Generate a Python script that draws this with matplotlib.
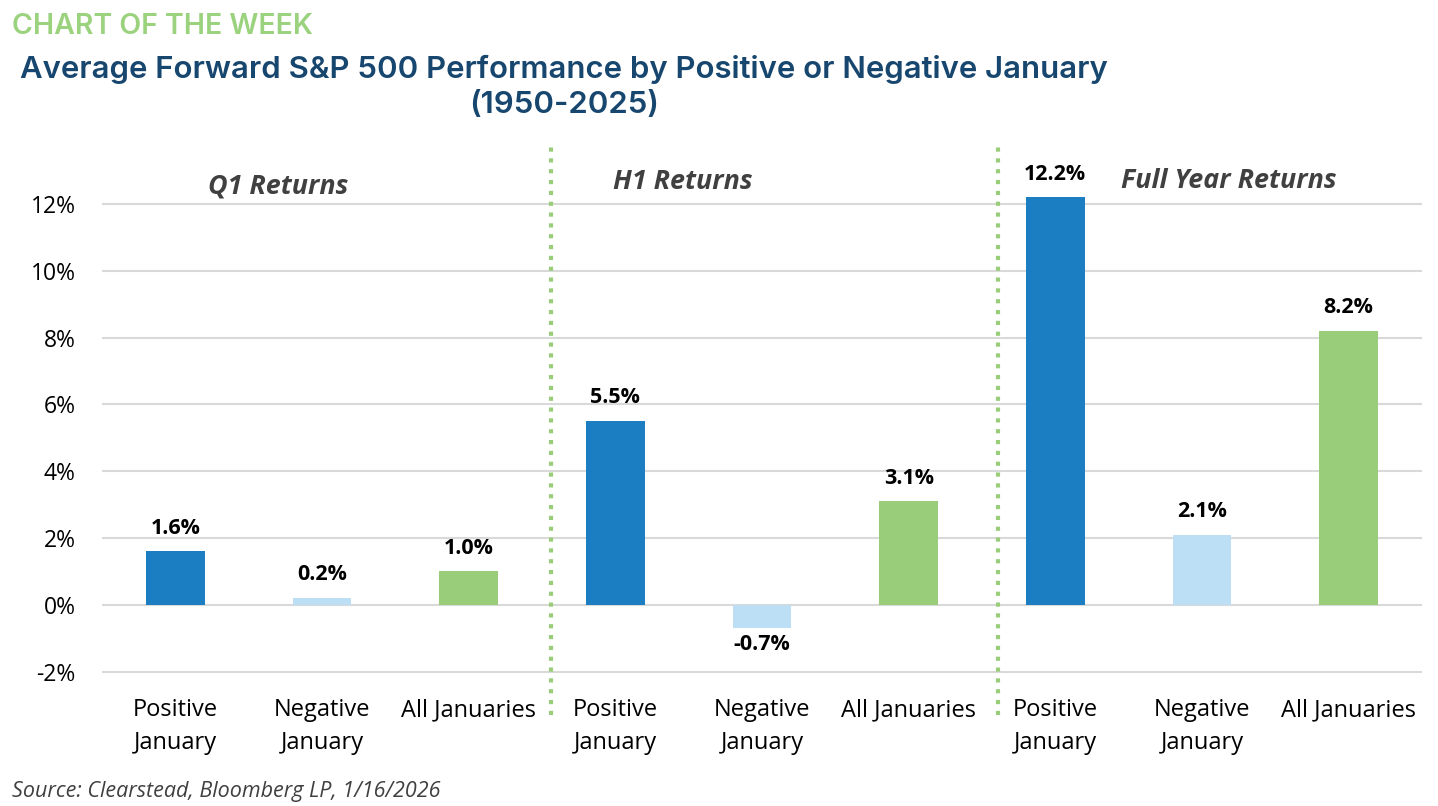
import matplotlib
matplotlib.use("Agg")
import matplotlib.pyplot as plt
from matplotlib.ticker import FuncFormatter

# data
groups = ["Q1 Returns", "H1 Returns", "Full Year Returns"]
categories = ["Positive\nJanuary", "Negative\nJanuary", "All Januaries"]
q1_vals = [1.6, 0.2, 1.0]
h1_vals = [5.5, -0.7, 3.1]
fy_vals = [12.2, 2.1, 8.2]
yticks = [-2, 0, 2, 4, 6, 8, 10, 12]

colors = ["#1B7EC2", "#BDDFF6", "#99CD7A"]

plt.rcParams['font.family'] = ['Open Sans', 'DejaVu Sans']

fig = plt.figure(figsize=(14.38, 8.06), dpi=100)
W, H = 1438, 806
# axes placed in pixel terms
x0, x1 = 102, 1422
ytop, ybot = 145, 690
ax = fig.add_axes([x0 / W, 1 - ybot / H, (x1 - x0) / W, (ybot - ytop) / H])

all_vals = q1_vals + h1_vals + fy_vals
xs = list(range(len(all_vals)))
bar_cols = colors * 3
ax.bar(xs, all_vals, width=0.40, color=bar_cols, zorder=3)

for x, v in zip(xs, all_vals):
    if v >= 0:
        ax.text(x, v + 0.38, f"{v:.1f}%", ha="center", va="bottom", fontsize=15.5,
                fontweight="bold", color="black")
    else:
        ax.text(x, v - 0.18, f"{v:.1f}%", ha="center", va="top", fontsize=15.5,
                fontweight="bold", color="black")

ax.set_xlim(-0.5, 8.5)
ax.set_ylim(-2.55, 13.77)
ax.set_yticks(yticks)
ax.yaxis.set_major_formatter(FuncFormatter(lambda v, p: f"{v:.0f}%"))
ax.grid(axis="y", color="#D9D9D9", linewidth=1.5, zorder=0)
ax.set_xticks(xs)
ax.set_xticklabels(categories * 3, fontsize=17, color="black", linespacing=1.5)
ax.tick_params(axis="both", length=0)
ax.tick_params(axis="x", pad=6)
ax.tick_params(axis="y", labelsize=16.5, pad=19)
for s in ax.spines.values():
    s.set_visible(False)

# section dividers (dotted green)
for xd in [2.56, 5.61]:
    ax.plot([xd, xd], [-3.3, 13.77], color="#99CD7A", linestyle=(0, (1, 1.6)),
            linewidth=3, clip_on=False, zorder=2)

# section titles
sec_pos = [(0.7, 12.54), (3.46, 12.66), (7.18, 12.69)]
for g, (sx, sy) in zip(groups, sec_pos):
    ax.text(sx, sy, g, ha="center", va="center", fontsize=19.4, fontweight="bold",
            fontstyle="italic", color="#404040")

# titles
fig.text(12 / W, 1 - 26 / H, "CHART OF THE WEEK", fontsize=20.5, color="#9BD27E",
         va="center", ha="left", family=["Inter", "DejaVu Sans"], fontweight="semibold")
fig.text(564 / W, 1 - 69 / H, "Average Forward S&P 500 Performance by Positive or Negative January",
         fontsize=22.4, color="#17466E", va="center", ha="center",
         family=["Inter", "DejaVu Sans"], fontweight="semibold")
fig.text(564 / W, 1 - 105 / H, "(1950-2025)", fontsize=22.4, color="#17466E",
         va="center", ha="center", family=["Inter", "DejaVu Sans"], fontweight="semibold")

fig.text(12 / W, 1 - 791 / H, "Source: Clearstead, Bloomberg LP, 1/16/2026", fontsize=15.5,
         fontstyle="italic", color="#404040", va="center", ha="left")

fig.savefig("out.png", dpi=100)
